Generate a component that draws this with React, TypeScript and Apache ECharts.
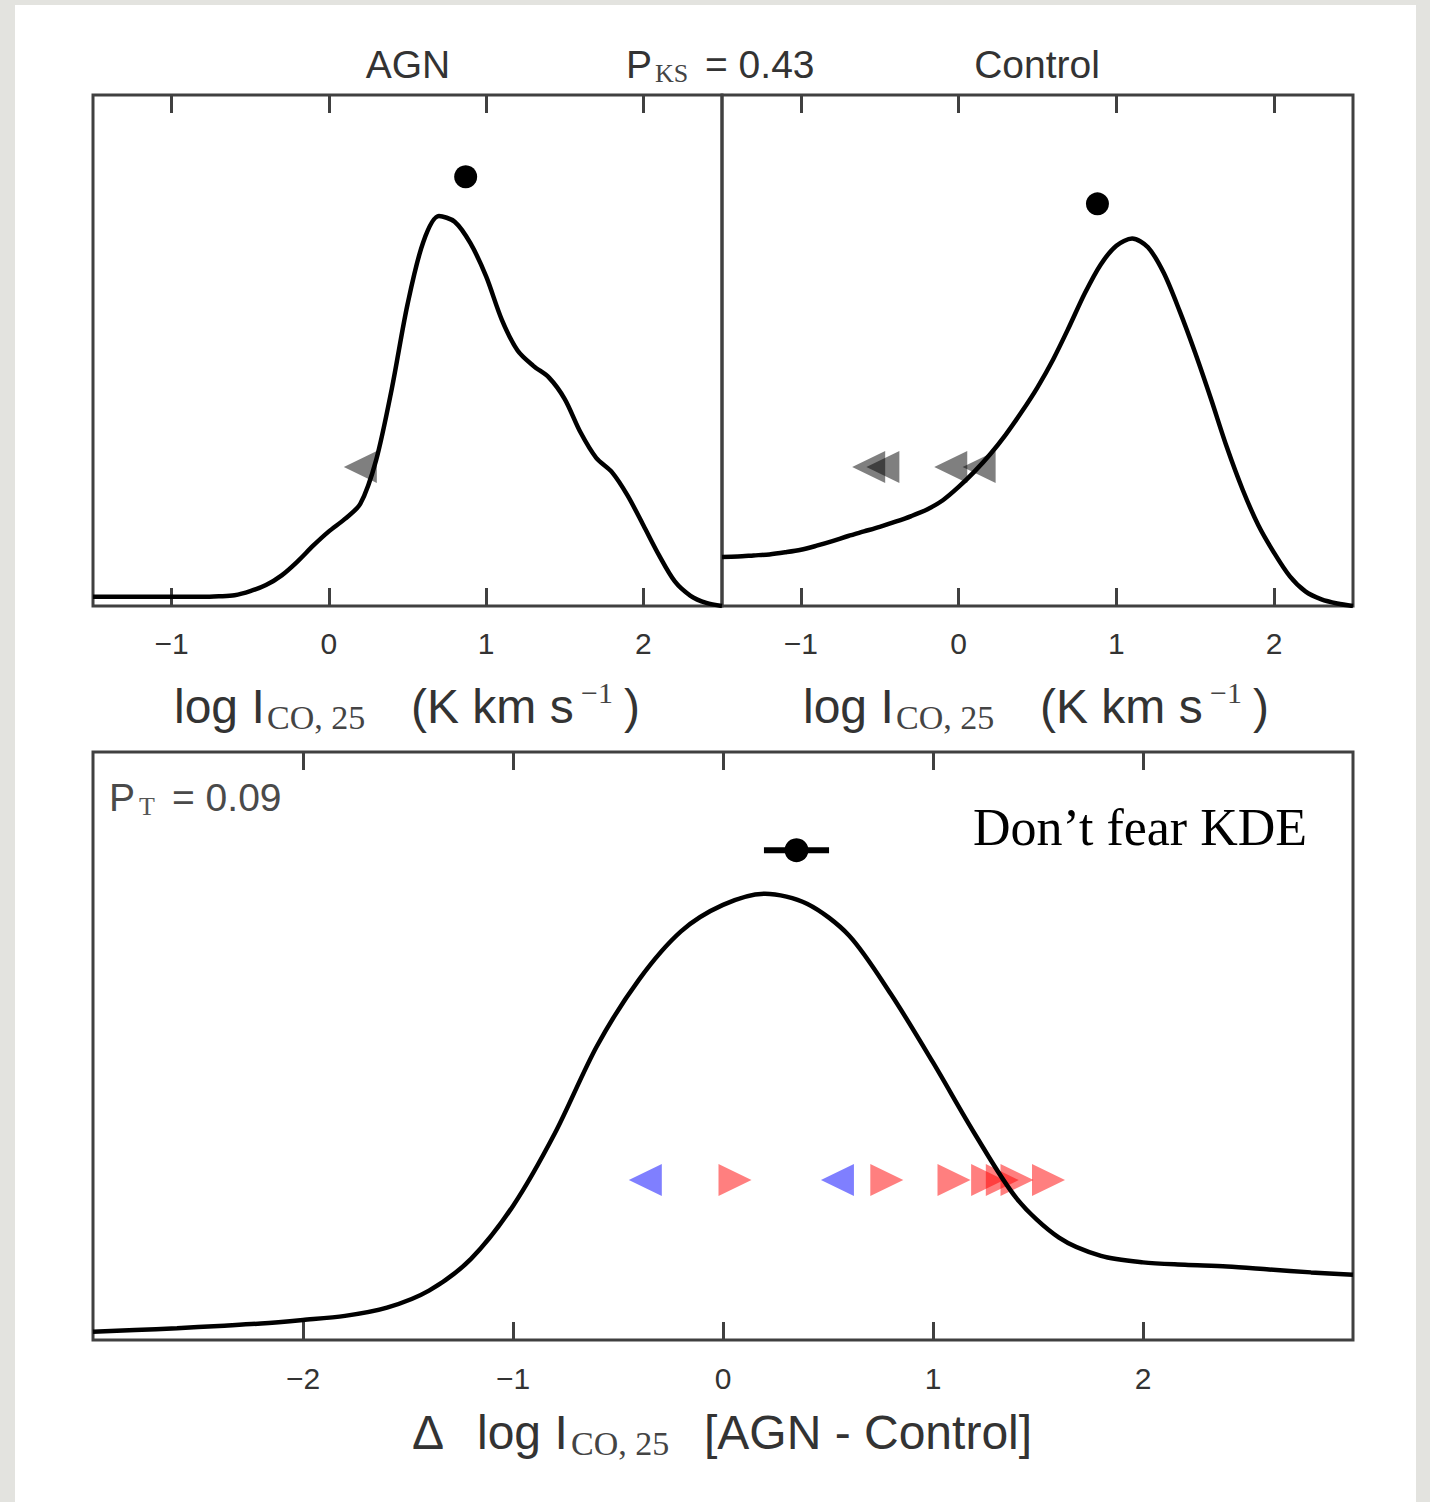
import React, { useEffect, useRef } from 'react';
import * as echarts from 'echarts';

// ---------- data ----------
const TOP_TICKS = [-1, 0, 1, 2];
const BOTTOM_TICKS = [-2, -1, 0, 1, 2];
const TICK_LABELS: Record<string, string> = { '-2': '\u22122', '-1': '\u22121', '0': '0', '1': '1', '2': '2' };

const AGN_X = [-1.5, -1.4, -1.3, -1.2, -1.1, -1.0, -0.9, -0.8, -0.7, -0.6, -0.5, -0.4, -0.3, -0.2, -0.1, 0.0, 0.1, 0.2, 0.3, 0.4, 0.5, 0.6, 0.7, 0.8, 0.9, 1.0, 1.1, 1.2, 1.3, 1.4, 1.5, 1.6, 1.7, 1.8, 1.9, 2.0, 2.1, 2.2, 2.3, 2.4, 2.5];
const AGN_Y = [0.018, 0.018, 0.018, 0.018, 0.018, 0.018, 0.018, 0.018, 0.019, 0.021, 0.029, 0.041, 0.060, 0.087, 0.118, 0.146, 0.170, 0.200, 0.285, 0.425, 0.590, 0.712, 0.763, 0.752, 0.710, 0.645, 0.560, 0.500, 0.470, 0.447, 0.405, 0.340, 0.290, 0.262, 0.216, 0.158, 0.099, 0.048, 0.020, 0.006, 0.0];

const CTRL_X = [-1.5, -1.4, -1.3, -1.2, -1.1, -1.0, -0.9, -0.8, -0.7, -0.6, -0.5, -0.4, -0.3, -0.2, -0.1, 0.0, 0.1, 0.2, 0.3, 0.4, 0.5, 0.6, 0.7, 0.8, 0.9, 1.0, 1.1, 1.2, 1.3, 1.4, 1.5, 1.6, 1.7, 1.8, 1.9, 2.0, 2.1, 2.2, 2.3, 2.4, 2.5];
const CTRL_Y = [0.096, 0.097, 0.099, 0.101, 0.105, 0.110, 0.118, 0.127, 0.137, 0.146, 0.155, 0.165, 0.176, 0.189, 0.207, 0.233, 0.263, 0.297, 0.336, 0.380, 0.428, 0.483, 0.546, 0.612, 0.668, 0.705, 0.719, 0.702, 0.652, 0.578, 0.495, 0.405, 0.311, 0.228, 0.158, 0.104, 0.058, 0.028, 0.013, 0.005, 0.0];

const DELTA_X = [-3.0, -2.8, -2.6, -2.4, -2.2, -2.0, -1.8, -1.6, -1.4, -1.2, -1.0, -0.8, -0.6, -0.4, -0.2, 0.0, 0.2, 0.4, 0.6, 0.8, 1.0, 1.2, 1.4, 1.6, 1.8, 2.0, 2.2, 2.4, 2.6, 2.8, 3.0];
const DELTA_Y = [0.014, 0.017, 0.020, 0.024, 0.028, 0.034, 0.041, 0.055, 0.084, 0.138, 0.228, 0.352, 0.500, 0.613, 0.695, 0.740, 0.759, 0.742, 0.688, 0.588, 0.472, 0.350, 0.240, 0.174, 0.143, 0.132, 0.128, 0.125, 0.120, 0.115, 0.111];

const AGN_DOT = [0.87, 0.84];
const CTRL_DOT = [0.88, 0.787];
const DELTA_DOT = [0.35, 0.833];
const DELTA_ERR = 0.155;

const LIMIT_Y = 0.272;
const AGN_LIMITS = [0.2];
const CTRL_LIMITS = [-0.57, -0.48, -0.05, 0.13];
const DELTA_LEFT = [-0.37, 0.545];
const DELTA_RIGHT = [0.057, 0.78, 1.1, 1.26, 1.33, 1.4, 1.55];

// ---------- styles ----------
const SANS = '"Liberation Sans", Arial, Helvetica, sans-serif';
const SERIF = '"Liberation Serif", "Times New Roman", serif';
const TXT = '#333333';
const FRAME = '#404040';
const LEFT_TRI = 'path://M0,5L10,0L10,10Z';
const RIGHT_TRI = 'path://M0,0L10,5L0,10Z';
const CURVE_W = 4.5;

const zip = (xs: number[], ys: number[]) => xs.map((x, i) => [x, ys[i]]);
const fmt = (v: number) => TICK_LABELS[String(Math.round(v))] ?? String(v);

function xAxes(gridIndex: number, min: number, max: number, ticks: number[], margin: number) {
  const tick = { show: true, inside: true, length: 18, lineStyle: { color: FRAME, width: 3 }, customValues: ticks };
  return [
    {
      type: 'value', gridIndex, min, max, position: 'bottom',
      axisLine: { show: false }, splitLine: { show: false },
      axisTick: tick,
      axisLabel: { show: true, customValues: ticks, formatter: fmt, fontSize: 30, fontFamily: SANS, color: TXT, margin },
    },
    {
      type: 'value', gridIndex, min, max, position: 'top',
      axisLine: { show: false }, splitLine: { show: false },
      axisTick: tick,
      axisLabel: { show: false },
    },
  ];
}

function t(text: string, x: number, y: number, size: number, family: string, fill = TXT, align = 'left') {
  return {
    type: 'text', x, y, z: 10,
    style: { text, font: `${size}px ${family}`, fill, align, verticalAlign: 'middle', textAlign: align, textVerticalAlign: 'middle' },
  };
}

function axisTitle(dx: number, y: number) {
  return [
    t('log I', 174 + dx, y, 48, SANS),
    t('CO, 25', 267 + dx, y + 11, 34, SERIF, '#444'),
    t('(K km s', 411 + dx, y, 48, SANS),
    t('\u22121', 581 + dx, y - 14, 30, SERIF, '#444'),
    t(')', 624 + dx, y, 48, SANS),
  ];
}

const tri = (symbol: string, color: string, xs: number[], xAxisIndex: number, yAxisIndex: number) => ({
  type: 'scatter', xAxisIndex, yAxisIndex, symbol, symbolSize: [33, 32],
  itemStyle: { color, opacity: 1 }, data: xs.map((x) => [x, LIMIT_Y]), z: 2,
});

const curve = (xs: number[], ys: number[], xAxisIndex: number, yAxisIndex: number) => ({
  type: 'line', xAxisIndex, yAxisIndex, data: zip(xs, ys), showSymbol: false, smooth: 0.3,
  lineStyle: { color: '#000', width: CURVE_W }, z: 3,
});

const dot = (p: number[], size: number, xAxisIndex: number, yAxisIndex: number) => ({
  type: 'scatter', xAxisIndex, yAxisIndex, symbol: 'circle', symbolSize: size,
  itemStyle: { color: '#000', opacity: 1 }, data: [p], z: 5,
});

const option: any = {
  animation: false,
  grid: [
    { left: 93, top: 95, width: 629, height: 511, show: true, borderColor: FRAME, borderWidth: 3, backgroundColor: 'transparent' },
    { left: 722, top: 95, width: 631, height: 511, show: true, borderColor: FRAME, borderWidth: 3, backgroundColor: 'transparent' },
    { left: 93, top: 752, width: 1260, height: 588, show: true, borderColor: FRAME, borderWidth: 3, backgroundColor: 'transparent' },
  ],
  xAxis: [
    ...xAxes(0, -1.5, 2.5, TOP_TICKS, 22),
    ...xAxes(1, -1.5, 2.5, TOP_TICKS, 22),
    ...xAxes(2, -3, 3, BOTTOM_TICKS, 23),
  ],
  yAxis: [0, 1, 2].map((g) => ({ type: 'value', gridIndex: g, min: 0, max: 1, show: false })),
  series: [
    // AGN panel
    tri(LEFT_TRI, 'rgba(0,0,0,0.5)', AGN_LIMITS, 0, 0),
    curve(AGN_X, AGN_Y, 0, 0),
    dot(AGN_DOT, 23, 0, 0),
    // Control panel
    tri(LEFT_TRI, 'rgba(0,0,0,0.5)', CTRL_LIMITS, 2, 1),
    curve(CTRL_X, CTRL_Y, 2, 1),
    dot(CTRL_DOT, 23, 2, 1),
    // Delta panel
    tri(LEFT_TRI, 'rgba(0,0,255,0.5)', DELTA_LEFT, 4, 2),
    tri(RIGHT_TRI, 'rgba(255,0,0,0.5)', DELTA_RIGHT, 4, 2),
    curve(DELTA_X, DELTA_Y, 4, 2),
    {
      type: 'line', xAxisIndex: 4, yAxisIndex: 2, showSymbol: false,
      data: [[DELTA_DOT[0] - DELTA_ERR, DELTA_DOT[1]], [DELTA_DOT[0] + DELTA_ERR, DELTA_DOT[1]]],
      lineStyle: { color: '#000', width: 6 }, z: 4,
    },
    dot(DELTA_DOT, 24, 4, 2),
  ],
  graphic: [
    t('AGN', 408, 64, 39, SANS, TXT, 'center'),
    t('Control', 1037, 64, 39, SANS, TXT, 'center'),
    t('P', 626, 64, 39, SANS),
    t('KS', 655, 73, 26, SERIF, '#444'),
    t('= 0.43', 705, 64, 39, SANS),
    t('P', 109, 797, 39, SANS, '#4a4a4a'),
    t('T', 139, 806, 26, SERIF, '#555'),
    t('= 0.09', 172, 797, 39, SANS, '#4a4a4a'),
    ...axisTitle(0, 706),
    ...axisTitle(629, 706),
    t('\u0394', 412, 1432, 48, SANS),
    t('log I', 477, 1432, 48, SANS),
    t('CO, 25', 571, 1443, 34, SERIF, '#444'),
    t('[AGN - Control]', 704, 1432, 48, SANS),
    t('Don\u2019t fear KDE', 973, 827, 52, SERIF, '#000'),
  ],
};

export default function App() {
  const ref = useRef<HTMLDivElement>(null);
  useEffect(() => {
    const chart = echarts.init(ref.current!, null, { renderer: 'svg' });
    chart.setOption(option);
    return () => chart.dispose();
  }, []);
  return (
    <div style={{ position: 'fixed', left: 0, top: 0, width: 1430, height: 1502, background: '#e3e3df', overflow: 'hidden' }}>
      <div style={{ position: 'absolute', left: 15, top: 5, width: 1401, height: 1497, background: '#ffffff' }} />
      <div ref={ref} style={{ position: 'absolute', left: 0, top: 0, width: 1430, height: 1502 }} />
    </div>
  );
}
